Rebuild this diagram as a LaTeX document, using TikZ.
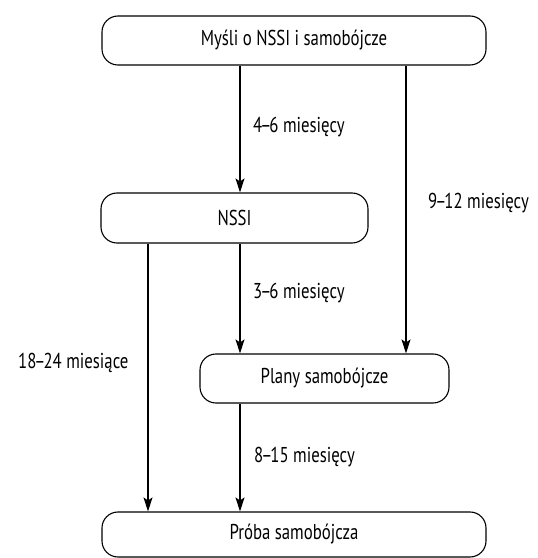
\documentclass[tikz,border=0pt]{standalone}
\usepackage{fontspec}
\setmainfont[FakeStretch=0.78]{PT Sans}
\usetikzlibrary{arrows.meta}
\newcommand\odDo[2]{#1\kern-2pt–\kern-2pt#2}
\tikzset{
  stage/.style={draw, line width=1.1pt, rounded corners=16pt, inner sep=0pt,
                font=\fontsize{21.5}{24}\selectfont},
  lag/.style={anchor=west, inner sep=0pt, font=\fontsize{21.5}{24}\selectfont},
  arr/.style={line width=1.1pt, -{Stealth[length=14pt,width=9pt,inset=3pt]}}
}
\begin{document}
\begin{tikzpicture}[x=1pt,y=1pt]
\useasboundingbox (0,0) rectangle (538,558);
\node[stage, minimum width=384pt, minimum height=49pt] (mysli)  at (294,517.5) {Myśli o NSSI i samobójcze};
\node[stage, minimum width=267pt, minimum height=50pt] (nssi)   at (234.5,340) {NSSI};
\node[stage, minimum width=249pt, minimum height=49pt] (plany)  at (324.5,179.5) {Plany samobójcze};
\node[stage, minimum width=384pt, minimum height=45pt] (proba)  at (294,23.5) {Próba samobójcza};
\coordinate (xa) at (148,0);
\coordinate (xb) at (240,0);
\coordinate (xc) at (406,0);
\draw[arr] (mysli.south -| xb) -- (nssi.north -| xb);
\draw[arr] (mysli.south -| xc) -- (plany.north -| xc);
\draw[arr] (nssi.south -| xb) -- (plany.north -| xb);
\draw[arr] (nssi.south -| xa) -- (proba.north -| xa);
\draw[arr] (plany.south -| xb) -- (proba.north -| xb);
\node[lag] (l46)   at (253,431) {\odDo{4}{6} miesięcy};
\node[lag] (l912)  at (428,355) {\odDo{9}{12} miesięcy};
\node[lag] (l36)   at (253,265) {\odDo{3}{6} miesięcy};
\node[lag] (l1824) at (18,195)  {\odDo{18}{24} miesiące};
\node[lag] (l815)  at (254,101) {\odDo{8}{15} miesięcy};
\end{tikzpicture}
\end{document}
